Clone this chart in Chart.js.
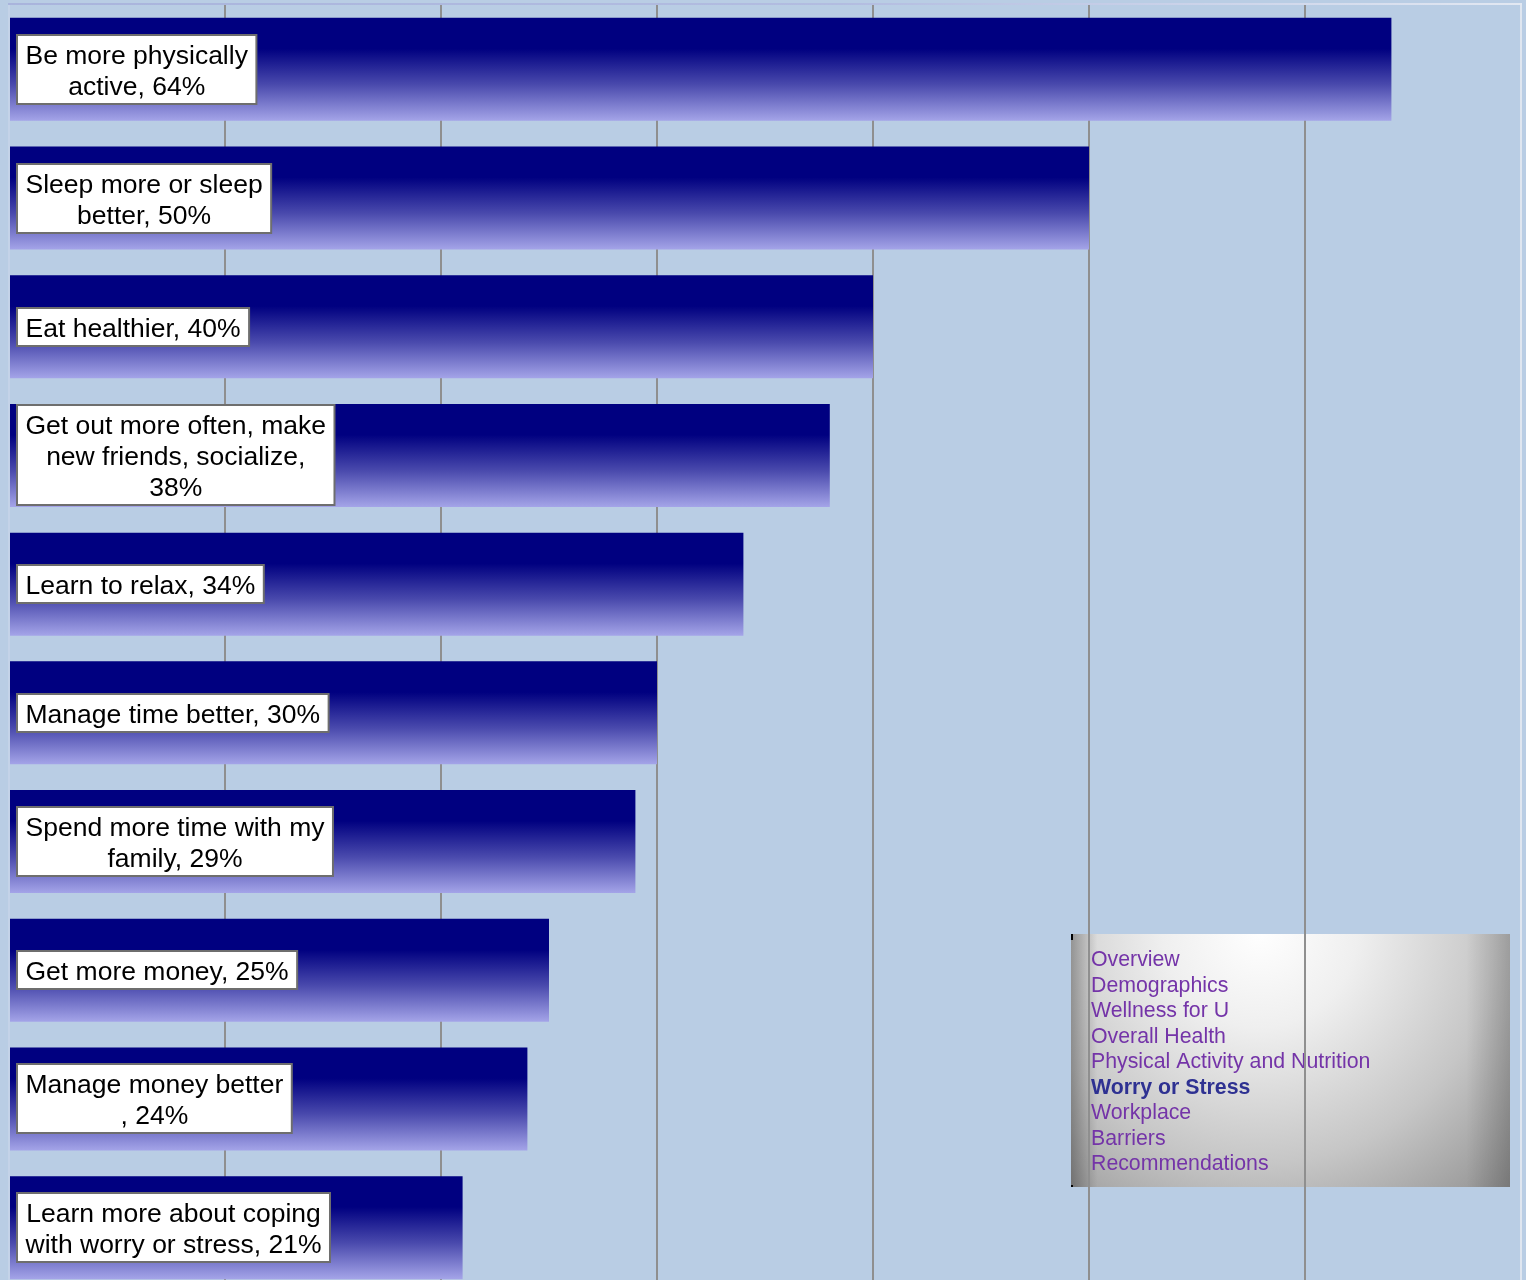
<!DOCTYPE html>
<html>
<head>
<meta charset="utf-8">
<title>Worry or Stress</title>
<script src="https://cdn.jsdelivr.net/npm/chart.js@4.4.1/dist/chart.umd.min.js"></script>
<style>
  html, body { margin: 0; padding: 0; overflow: hidden; background: #b9cde4; }
  canvas { display: block; }
</style>
</head>
<body>
<canvas id="changes" width="1526" height="1292"></canvas>
<script>
// what people would like to change, share of respondents
const categories = [
  "Be more physically active",
  "Sleep more or sleep better",
  "Eat healthier",
  "Get out more often, make new friends, socialize",
  "Learn to relax",
  "Manage time better",
  "Spend more time with my family",
  "Get more money",
  "Manage money better ",
  "Learn more about coping with worry or stress"
];
const percents = [64, 50, 40, 38, 34, 30, 29, 25, 24, 21];
const axisMax = 70;
const axisStep = 10;

const menuItems = [
  "Overview", "Demographics", "Wellness for U", "Overall Health",
  "Physical Activity and Nutrition", "Worry or Stress", "Workplace",
  "Barriers", "Recommendations"
];
const currentItem = "Worry or Stress";

const LABEL_FONT = '26.5px Arial, "Liberation Sans", sans-serif';
const MENU_FONT = '21.3px Arial, "Liberation Sans", sans-serif';

// greedy word wrap; a lone comma stays with the word that follows it
function wrapLabel(c, text, maxWidth) {
  const words = [];
  text.split(' ').forEach(w => {
    const last = words[words.length - 1];
    if (last !== undefined && /^[,;]$/.test(last)) words[words.length - 1] = last + ' ' + w;
    else words.push(w);
  });
  const lines = [];
  let line = words[0];
  for (let i = 1; i < words.length; i++) {
    const test = line + ' ' + words[i];
    if (c.measureText(test).width <= maxWidth) line = test;
    else { lines.push(line); line = words[i]; }
  }
  lines.push(line);
  return lines;
}

function barGradient(ctx) {
  const chart = ctx.chart;
  const area = chart.chartArea;
  if (!area || ctx.type !== 'data') return '#000080';
  const mid = chart.scales.y.getPixelForValue(ctx.dataIndex);
  const half = (area.bottom - area.top) / categories.length * 0.8 / 2;
  const g = chart.ctx.createLinearGradient(0, mid - half, 0, mid + half);
  g.addColorStop(0, '#000080');
  g.addColorStop(0.3, '#000080');
  g.addColorStop(0.65, '#4a4aad');
  g.addColorStop(1, '#a4a4e8');
  return g;
}

// page background and the section menu panel, under the grid
const backdrop = {
  id: 'backdrop',
  beforeDraw(chart) {
    const c = chart.ctx;
    c.save();
    c.fillStyle = '#b9cde4';
    c.fillRect(0, 0, chart.width, chart.height);

    const x = 1071, y = 934, w = 439, h = 253;
    const rg = c.createRadialGradient(1260, 930, 0, 1260, 930, 390);
    rg.addColorStop(0, '#ffffff');
    rg.addColorStop(0.25, '#efefef');
    rg.addColorStop(0.6, '#c6c6c6');
    rg.addColorStop(1, '#848484');
    c.fillStyle = rg;
    c.fillRect(x, y, w, h);
    const edges = c.createLinearGradient(x, 0, x + w, 0);
    edges.addColorStop(0, 'rgba(0,0,0,0.3)');
    edges.addColorStop(0.06, 'rgba(0,0,0,0)');
    edges.addColorStop(0.9, 'rgba(0,0,0,0)');
    edges.addColorStop(1, 'rgba(0,0,0,0.18)');
    c.fillStyle = edges;
    c.fillRect(x, y, w, h);
    c.fillStyle = '#000';
    c.fillRect(x, y, 2, 6);
    c.fillRect(x, y + h - 2, 2, 2);

    c.textAlign = 'left';
    c.textBaseline = 'alphabetic';
    menuItems.forEach((item, i) => {
      const active = item === currentItem;
      c.font = (active ? 'bold ' : '') + MENU_FONT;
      c.fillStyle = active ? '#2e3192' : '#7434a8';
      c.fillText(item, 1091, 966 + i * 25.5);
    });
    c.restore();
  }
};

// plot frame along the top edge
const frame = {
  id: 'frame',
  beforeDatasetsDraw(chart) {
    const a = chart.chartArea;
    const c = chart.ctx;
    c.save();
    const g = c.createLinearGradient(a.left, 0, a.right, 0);
    g.addColorStop(0, '#a9b4dc');
    g.addColorStop(0.55, '#b2bce0');
    g.addColorStop(1, '#e2e8f2');
    c.strokeStyle = g;
    c.lineWidth = 2;
    c.beginPath();
    c.moveTo(a.left - 1, a.top - 1);
    c.lineTo(a.right + 1, a.top - 1);
    c.stroke();
    c.restore();
  }
};

// white callouts with the category and its share
const callouts = {
  id: 'callouts',
  afterDatasetsDraw(chart) {
    const c = chart.ctx;
    c.save();
    c.font = LABEL_FONT;
    chart.getDatasetMeta(0).data.forEach((bar, i) => {
      const lines = wrapLabel(c, categories[i] + ', ' + percents[i] + '%', 303);
      const w = Math.max(...lines.map(l => c.measureText(l).width)) + 17;
      const h = lines.length * 31 + 7;
      const x = Math.round(bar.base) + 7, y = Math.round(bar.y - h / 2);
      c.fillStyle = '#ffffff';
      c.fillRect(x, y, w, h);
      c.strokeStyle = '#6e6e6e';
      c.lineWidth = 2;
      c.strokeRect(x, y, w, h);
      c.fillStyle = '#000000';
      c.textAlign = 'center';
      c.textBaseline = 'middle';
      lines.forEach((l, k) => {
        c.fillText(l, x + w / 2, y + h / 2 + 2.5 + (k - (lines.length - 1) / 2) * 31);
      });
    });
    c.restore();
  }
};

new Chart(document.getElementById('changes'), {
  type: 'bar',
  data: {
    labels: categories,
    datasets: [{
      data: percents,
      backgroundColor: barGradient,
      borderWidth: 0,
      categoryPercentage: 0.8,
      barPercentage: 1
    }]
  },
  options: {
    indexAxis: 'y',
    responsive: false,
    animation: false,
    layout: { padding: { top: 5, left: 9, right: 5, bottom: 0 } },
    plugins: { legend: { display: false }, tooltip: { enabled: false } },
    scales: {
      x: {
        min: 0,
        max: axisMax,
        ticks: { display: false, stepSize: axisStep },
        border: { display: false },
        grid: {
          drawTicks: false,
          lineWidth: 2,
          color: ctx => ctx.tick.value === 0 ? '#c4d3e8'
                      : ctx.tick.value === axisMax ? '#dfe6f0' : '#8f8f8f'
        }
      },
      y: { display: false }
    }
  },
  plugins: [backdrop, frame, callouts]
});
</script>
</body>
</html>
